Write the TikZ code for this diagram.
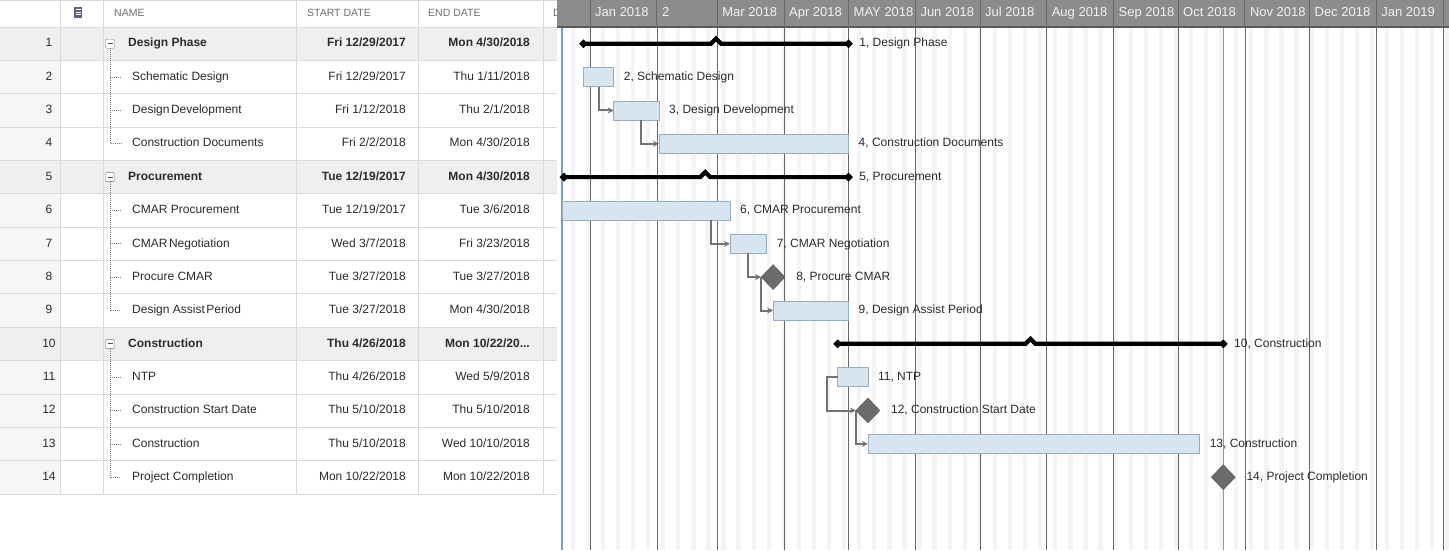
\documentclass[tikz,border=0pt]{standalone}
\usepackage{fontspec}
\setmainfont{Liberation Sans}
\usetikzlibrary{shapes.geometric,arrows.meta,positioning}

\definecolor{barfill}{HTML}{D6E5F0}
\definecolor{barline}{HTML}{98ACBF}
\definecolor{mscolor}{HTML}{6B6B6B}
\definecolor{gridline}{HTML}{DADADA}
\definecolor{headgray}{HTML}{8C8C8C}
\definecolor{txt}{HTML}{2B2B2B}
\definecolor{hdrtxt}{HTML}{6E6E6E}
\definecolor{todayblue}{HTML}{6F9FD8}
\definecolor{stripe}{HTML}{F4F4F4}
\definecolor{sumrow}{HTML}{EFEFEF}
\definecolor{numcol}{HTML}{F6F6F6}
\definecolor{deparrow}{HTML}{727272}

\tikzset{
  tbl/.style={font=\fontsize{12}{14}\selectfont, text=txt, inner sep=0pt, text height=9pt, text depth=2.5pt},
  tblbold/.style={tbl, font=\fontsize{12}{14}\selectfont\bfseries},
  hdr/.style={tbl, font=\fontsize{10.5}{13}\selectfont, text=hdrtxt, anchor=west},
  monthlbl/.style={tbl, font=\fontsize{13}{15}\selectfont, text=white!95!black, anchor=west},
  lbl/.style={tbl, anchor=west},
  task/.style={draw=barline, fill=barfill, line width=0.8pt, minimum height=19pt, inner sep=0pt, outer sep=0pt, anchor=west},
  milestone/.style={diamond, draw=mscolor!85!black, fill=mscolor, minimum width=24pt, minimum height=25pt, inner sep=0pt, outer sep=0pt},
  sumend/.style={diamond, fill=black, minimum size=9pt, inner sep=0pt},
  sumline/.style={line width=4.2pt, black, line join=miter},
  dep/.style={draw=deparrow, line width=2pt, -{Stealth[length=6pt,width=6pt]}},
  rowline/.style={draw=gridline, line width=0.7pt},
  treeline/.style={draw=black!50, line width=0.7pt, dash pattern=on 1pt off 1pt},
  monthline/.style={draw=black!60, line width=0.6pt},
  minusbox/.style={draw=black!55, fill=white, minimum size=9pt, inner sep=0pt, rounded corners=1pt,
    path picture={\draw[black!70, line width=0.8pt] ([xshift=2pt]path picture bounding box.west) -- ([xshift=-2pt]path picture bounding box.east);}},
}

\begin{document}
\begin{tikzpicture}[x=1pt,y=-1pt]
  \useasboundingbox (0,0) rectangle (1449,550);
  \fill[white] (0,0) rectangle (1449,550);

  % table
  \fill[numcol] (0,27) rectangle (60,493.9);
  \fill[sumrow] (0,27) rectangle (557,60.4);
  \fill[sumrow] (0,160.4) rectangle (557,193.8);
  \fill[sumrow] (0,327.2) rectangle (557,360.5);
  \draw[black!15, line width=1pt] (0,0.5) -- (1449,0.5);
  \foreach \k in {0,...,14}
    \draw[rowline] (0,{27+33.35*\k}) -- (557,{27+33.35*\k});
  \foreach \cx in {60,103,296,418,543}
    \draw[rowline] (\cx,0) -- (\cx,493.9);

  \node[fill=black!40!blue!25!gray, minimum width=8pt, minimum height=11pt, inner sep=0pt,
    path picture={\foreach \ly in {3,5.5,8} \draw[white, line width=0.6pt] ([xshift=1.5pt,yshift=-\ly pt]path picture bounding box.north west) -- ([xshift=-1.5pt,yshift=-\ly pt]path picture bounding box.north east);}] (hicon) at (78,12) {};
  \node[hdr] (hname) at (114,13.5) {NAME};
  \node[hdr] (hstart) at (307,13.5) {START DATE};
  \node[hdr] (hend) at (428,13.5) {END DATE};
  \node[hdr] (hdur) at (553,13.5) {D};

  \node[tbl] (r1) at (49,43.7) {1};
  \node[tbl] (r2) at (49,77.0) {2};
  \node[tbl] (r3) at (49,110.4) {3};
  \node[tbl] (r4) at (49,143.7) {4};
  \node[tbl] (r5) at (49,177.1) {5};
  \node[tbl] (r6) at (49,210.4) {6};
  \node[tbl] (r7) at (49,243.8) {7};
  \node[tbl] (r8) at (49,277.1) {8};
  \node[tbl] (r9) at (49,310.5) {9};
  \node[tbl] (r10) at (49,343.8) {10};
  \node[tbl] (r11) at (49,377.2) {11};
  \node[tbl] (r12) at (49,410.5) {12};
  \node[tbl] (r13) at (49,443.9) {13};
  \node[tbl] (r14) at (49,477.2) {14};

  \node[minusbox] (mb1) at (110,43.7) {};
  \node[minusbox] (mb5) at (110,177.1) {};
  \node[minusbox] (mb10) at (110,343.8) {};
  \draw[treeline] (mb1.south) -- (110,143.7) -- (121,143.7);
  \draw[treeline] (mb5.south) -- (110,310.5) -- (121,310.5);
  \draw[treeline] (mb10.south) -- (110,477.2) -- (121,477.2);
  \foreach \ty in {77.0,110.4,210.4,243.8,277.1,377.2,410.5,443.9}
    \draw[treeline] (110,\ty) -- (121,\ty);

  \node[tblbold, anchor=west] (n1) at (128,43.7) {Design Phase};
  \node[tbl, anchor=west] (n2) at (132,77.0) {Schematic Design};
  \node[tbl, anchor=west] (n3) at (132,110.4) {Design\hspace{1.5pt}Development};
  \node[tbl, anchor=west] (n4) at (132,143.7) {Construction Documents};
  \node[tblbold, anchor=west] (n5) at (128,177.1) {Procurement};
  \node[tbl, anchor=west] (n6) at (132,210.4) {CMAR Procurement};
  \node[tbl, anchor=west] (n7) at (132,243.8) {CMAR\hspace{1.5pt}Negotiation};
  \node[tbl, anchor=west] (n8) at (132,277.1) {Procure CMAR};
  \node[tbl, anchor=west] (n9) at (132,310.5) {Design Assist\hspace{1.5pt}Period};
  \node[tblbold, anchor=west] (n10) at (128,343.8) {Construction};
  \node[tbl, anchor=west] (n11) at (132,377.2) {NTP};
  \node[tbl, anchor=west] (n12) at (132,410.5) {Construction Start Date};
  \node[tbl, anchor=west] (n13) at (132,443.9) {Construction};
  \node[tbl, anchor=west] (n14) at (132,477.2) {Project Completion};

  \node[tblbold, anchor=east] (sd1) at (406,43.7) {Fri 12/29/2017};
  \node[tbl, anchor=east] (sd2) at (406,77.0) {Fri 12/29/2017};
  \node[tbl, anchor=east] (sd3) at (406,110.4) {Fri 1/12/2018};
  \node[tbl, anchor=east] (sd4) at (406,143.7) {Fri 2/2/2018};
  \node[tblbold, anchor=east] (sd5) at (406,177.1) {Tue 12/19/2017};
  \node[tbl, anchor=east] (sd6) at (406,210.4) {Tue 12/19/2017};
  \node[tbl, anchor=east] (sd7) at (406,243.8) {Wed 3/7/2018};
  \node[tbl, anchor=east] (sd8) at (406,277.1) {Tue 3/27/2018};
  \node[tbl, anchor=east] (sd9) at (406,310.5) {Tue 3/27/2018};
  \node[tblbold, anchor=east] (sd10) at (406,343.8) {Thu 4/26/2018};
  \node[tbl, anchor=east] (sd11) at (406,377.2) {Thu 4/26/2018};
  \node[tbl, anchor=east] (sd12) at (406,410.5) {Thu 5/10/2018};
  \node[tbl, anchor=east] (sd13) at (406,443.9) {Thu 5/10/2018};
  \node[tbl, anchor=east] (sd14) at (406,477.2) {Mon 10/22/2018};

  \node[tblbold, anchor=east] (ed1) at (530,43.7) {Mon 4/30/2018};
  \node[tbl, anchor=east] (ed2) at (530,77.0) {Thu 1/11/2018};
  \node[tbl, anchor=east] (ed3) at (530,110.4) {Thu 2/1/2018};
  \node[tbl, anchor=east] (ed4) at (530,143.7) {Mon 4/30/2018};
  \node[tblbold, anchor=east] (ed5) at (530,177.1) {Mon 4/30/2018};
  \node[tbl, anchor=east] (ed6) at (530,210.4) {Tue 3/6/2018};
  \node[tbl, anchor=east] (ed7) at (530,243.8) {Fri 3/23/2018};
  \node[tbl, anchor=east] (ed8) at (530,277.1) {Tue 3/27/2018};
  \node[tbl, anchor=east] (ed9) at (530,310.5) {Mon 4/30/2018};
  \node[tblbold, anchor=east] (ed10) at (530,343.8) {Mon 10/22/20...};
  \node[tbl, anchor=east] (ed11) at (530,377.2) {Wed 5/9/2018};
  \node[tbl, anchor=east] (ed12) at (530,410.5) {Thu 5/10/2018};
  \node[tbl, anchor=east] (ed13) at (530,443.9) {Wed 10/10/2018};
  \node[tbl, anchor=east] (ed14) at (530,477.2) {Mon 10/22/2018};

  % chart grid
  \fill[white] (557,27) rectangle (1449,550);
  \begin{scope}
    \clip (562,27) rectangle (1449,550);
    \foreach \k in {0,...,58}
      \fill[stripe] ({590+2.154*(7*\k-9)},27) rectangle ++(4.3,523);
  \end{scope}
  \foreach \mx in {590,656.8,717.1,783.9,848.5,915.3,979.9,1046.6,1113.4,1178,1244.8,1309.4,1376.2,1443}
    \draw[monthline] (\mx,27) -- (\mx,550);
  \draw[todayblue, line width=1.5pt] (562,27) -- (562,550);
  \draw[todayblue, line width=1pt] (1223.3,27) -- (1223.3,550);

  \fill[headgray] (557,0) rectangle (1449,27);
  \draw[black!65, line width=1.5pt] (557,27) -- (1449,27);
  \foreach \mx in {590,656.8,717.1,783.9,848.5,915.3,979.9,1046.6,1113.4,1178,1244.8,1309.4,1376.2,1443}
    \draw[headgray!75!black, line width=0.8pt] (\mx,0) -- (\mx,27);
  \foreach \mx/\mname [count=\mi] in {590/Jan 2018,656.8/2,717.1/Mar 2018,783.9/Apr 2018,848.5/MAY 2018,915.3/Jun 2018,979.9/Jul 2018,1046.6/Aug 2018,1113.4/Sep 2018,1178/Oct 2018,1244.8/Nov 2018,1309.4/Dec 2018,1376.2/Jan 2019}
    \node[monthlbl] (mh\mi) at (\mx+5,13.5) {\mname};

  % summaries
  \node[sumend] (s1a) at (583.5,43.7) {};
  \node[sumend] (s1b) at (848.5,43.7) {};
  \coordinate (s1m) at (716,43.7);
  \node[sumend] (s5a) at (564,177.1) {};
  \node[sumend] (s5b) at (848.5,177.1) {};
  \coordinate (s5m) at (705.3,177.1);
  \node[sumend] (s10a) at (837.7,343.8) {};
  \node[sumend] (s10b) at (1223.3,343.8) {};
  \coordinate (s10m) at (1030.5,343.8);
  \draw[sumline] (s1a.center) -- ([xshift=-5pt]s1m) -- ([yshift=5pt]s1m) -- ([xshift=5pt]s1m) -- (s1b.center);
  \draw[sumline] (s5a.center) -- ([xshift=-5pt]s5m) -- ([yshift=5pt]s5m) -- ([xshift=5pt]s5m) -- (s5b.center);
  \draw[sumline] (s10a.center) -- ([xshift=-5pt]s10m) -- ([yshift=5pt]s10m) -- ([xshift=5pt]s10m) -- (s10b.center);

  % tasks
  \node[task, minimum width=30.2pt] (t2) at (583.5,77.0) {};
  \node[task, minimum width=45.3pt] (t3) at (613.7,110.4) {};
  \node[task, minimum width=189.5pt] (t4) at (659,143.7) {};
  \node[task, minimum width=168pt] (t6) at (562,210.4) {};
  \node[task, minimum width=36.6pt] (t7) at (730,243.8) {};
  \node[milestone] (t8) at (773.1,277.1) {};
  \node[task, minimum width=75.4pt] (t9) at (773.1,310.5) {};
  \node[task, minimum width=30.2pt] (t11) at (837.7,377.2) {};
  \node[milestone] (t12) at (867.9,410.5) {};
  \node[task, minimum width=331.7pt] (t13) at (867.9,443.9) {};
  \node[milestone] (t14) at (1223.3,477.2) {};

  % links
  \draw[dep] ([xshift=15pt]t2.south west) |- (t3.west);
  \draw[dep] ([xshift=27pt]t3.south west) |- (t4.west);
  \draw[dep] ([xshift=149pt]t6.south west) |- (t7.west);
  \draw[dep] ([xshift=18pt]t7.south west) |- (t8.west);
  \draw[dep] (t8.west) |- (t9.west);
  \draw[dep] (t11.west) -- ++(-11,0) |- (t12.west);
  \draw[dep] (t12.west) |- (t13.west);

  % labels
  \node[lbl, right=6pt of s1b] (l1) {1, Design Phase};
  \node[lbl, right=10pt of t2] (l2) {2, Schematic Design};
  \node[lbl, right=10pt of t3] (l3) {3, Design Development};
  \node[lbl, right=10pt of t4] (l4) {4, Construction Documents};
  \node[lbl, right=6pt of s5b] (l5) {5, Procurement};
  \node[lbl, right=10pt of t6] (l6) {6, CMAR Procurement};
  \node[lbl, right=10pt of t7] (l7) {7, CMAR Negotiation};
  \node[lbl, right=11pt of t8] (l8) {8, Procure CMAR};
  \node[lbl, right=10pt of t9] (l9) {9, Design Assist Period};
  \node[lbl, right=6pt of s10b] (l10) {10, Construction};
  \node[lbl, right=10pt of t11] (l11) {11, NTP};
  \node[lbl, right=11pt of t12] (l12) {12, Construction Start Date};
  \node[lbl, right=10pt of t13] (l13) {13, Construction};
  \node[lbl, right=11pt of t14] (l14) {14, Project Completion};
\end{tikzpicture}
\end{document}
